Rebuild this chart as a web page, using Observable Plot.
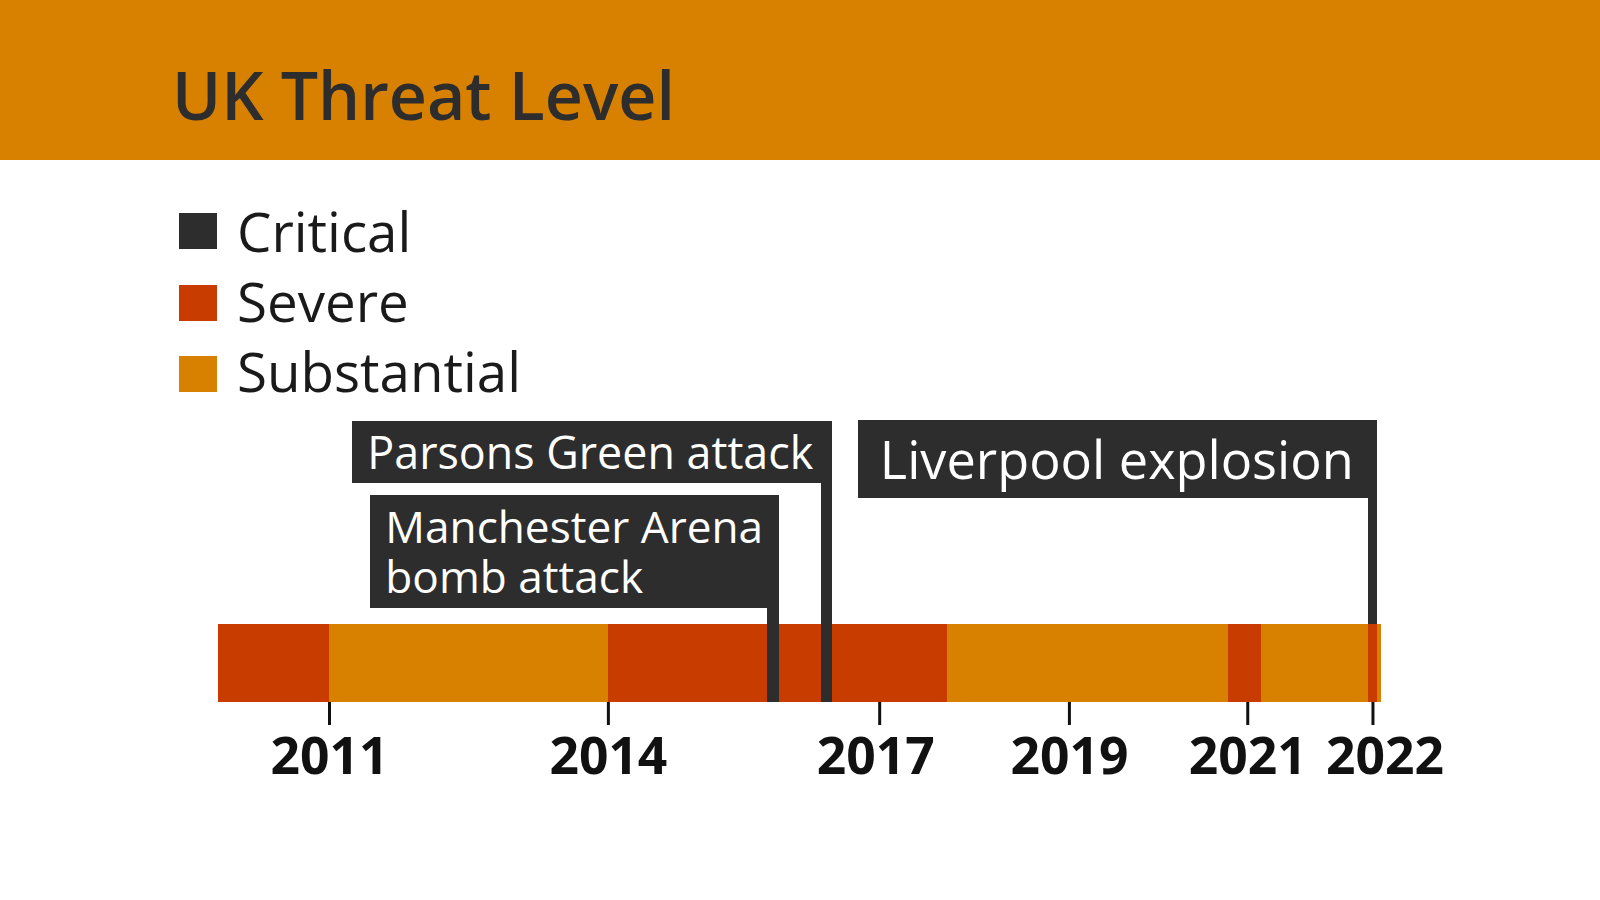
<!DOCTYPE html>
<html>
<head>
<meta charset="utf-8">
<script src="https://cdn.jsdelivr.net/npm/d3@7"></script>
<script src="https://cdn.jsdelivr.net/npm/@observablehq/plot@0.6"></script>
<style>
  html, body { margin: 0; padding: 0; background: #fff; }
  body { width: 1600px; height: 900px; position: relative; overflow: hidden; font-family: "Open Sans", sans-serif; }
  #header { position: absolute; left: 0; top: 0; width: 1600px; height: 160px; background: #d88000; }
  #title { position: absolute; left: 172px; margin: 0; color: #2d2d2d; font-weight: 600; line-height: 1; white-space: nowrap; }
  .leg-sq { position: absolute; left: 179px; width: 38px; height: 36px; }
  .leg-tx { position: absolute; left: 237px; color: #1a1a1a; font-weight: 400; line-height: 1; white-space: nowrap; }
  #chart { position: absolute; left: 0; top: 400px; }
</style>
</head>
<body>
<div id="header"><h1 id="title">UK Threat Level</h1></div>
<div id="legend"></div>
<div id="chart"></div>
<script>
// ---------------- data (timeline units ≈ years) ----------------
const levels = ["Critical", "Severe", "Substantial"];
const levelColors = ["#2d2d2d", "#c93c00", "#d88000"];

const segStart = [2009.83, 2011.00, 2013.94, 2017.52, 2020.48, 2020.83, 2021.95, 2022.05];
const segEnd   = [2011.00, 2013.94, 2017.52, 2020.48, 2020.83, 2021.95, 2022.05, 2022.09];
const segLevel = ["Severe", "Substantial", "Severe", "Substantial", "Severe", "Substantial", "Severe", "Substantial"];

const criticalStart = [2015.62, 2016.19];
const criticalEnd   = [2015.74, 2016.30];

const eventLabels = [["Manchester Arena", "bomb attack"], ["Parsons Green attack"], ["Liverpool explosion"]];
const eventStart  = [2015.62, 2016.19, 2021.95];
const eventEnd    = [2015.74, 2016.30, 2022.05];

const tickValues = [2011.00, 2013.94, 2016.80, 2018.80, 2020.68, 2022.00];
const tickLabels = ["2011", "2014", "2017", "2019", "2021", "2022"];

// ---------------- layout / style ----------------
const FONT = "Open Sans";
const ctx = document.createElement("canvas").getContext("2d");
function fitSize(text, weight, target) {
  ctx.font = `${weight} 100px "${FONT}"`;
  return 100 * target / ctx.measureText(text).width;
}
function textWidth(text, weight, size) {
  ctx.font = `${weight} ${size}px "${FONT}"`;
  return ctx.measureText(text).width;
}
const BASE = 0.888; // baseline offset (em) for line-height 1 in Open Sans

// title
const titleEl = document.getElementById("title");
const titleSize = fitSize("UK Threat Level", 600, 503);
titleEl.style.fontSize = titleSize + "px";
titleEl.style.top = (120 - BASE * titleSize) + "px";

// legend
const legendEl = document.getElementById("legend");
const legSize = fitSize("Substantial", 400, 284);
const legSqTop = [213, 285, 356];
const legBaseline = [253, 323, 393];
levels.forEach((lv, i) => {
  const sq = document.createElement("div");
  sq.className = "leg-sq";
  sq.style.top = legSqTop[i] + "px";
  sq.style.background = levelColors[i];
  legendEl.appendChild(sq);
  const tx = document.createElement("div");
  tx.className = "leg-tx";
  tx.textContent = lv;
  tx.style.fontSize = legSize + "px";
  tx.style.top = (legBaseline[i] - BASE * legSize) + "px";
  legendEl.appendChild(tx);
});

// chart geometry (svg coordinates; svg top is page y = 400)
const BAR_TOP = 224, BAR_BOTTOM = 302;
const TICK_BOTTOM = 325, TICK_LABEL_BASE = 373;
const labelNudge = {"2017": -4, "2022": 12};
const xDomain = [segStart[0], segEnd[segEnd.length - 1]];
const xRange = [218, 1381];
const xs = Plot.scale({x: {domain: xDomain, range: xRange}});

// per-event box layout
const eventBox = [
  {top: 95, bottom: 208, baseline: 192, lineGap: 50, padL: 15, padR: 16, target: 378},
  {top: 21, bottom: 83,  baseline: 68,  lineGap: 0,  padL: 15, padR: 19, target: 446},
  {top: 20, bottom: 98,  baseline: 78,  lineGap: 0,  padL: 21, padR: 24, target: 474}
];

const segments = segStart.map((s, i) => ({start: s, end: segEnd[i], level: segLevel[i]}));
const criticals = criticalStart.map((s, i) => ({start: s, end: criticalEnd[i], level: "Critical"}));
const events = eventLabels.map((lines, i) => {
  const b = eventBox[i];
  const size = fitSize(lines[0], 400, b.target);
  const w = Math.max(...lines.map(l => textWidth(l, 400, size)));
  const rightPx = xs.apply(eventEnd[i]);
  const leftPx = rightPx - b.padR - w - b.padL;
  return {
    lines, size, start: eventStart[i], end: eventEnd[i],
    boxLeft: xs.invert(leftPx), textX: xs.invert(leftPx + b.padL),
    top: b.top, bottom: b.bottom, baseline: b.baseline, lineGap: b.lineGap
  };
});

const textMarks = events.map(e => Plot.text([e], {
  x: "textX",
  y: d => d.baseline,
  text: d => d.lines.join("\n"),
  textAnchor: "start",
  lineAnchor: "bottom",
  lineHeight: e.lineGap ? e.lineGap / e.size : 1,
  fontSize: e.size,
  fontFamily: FONT,
  fill: "#ffffff"
}));

const tickSize = fitSize("2014", 700, 118);

const chart = Plot.plot({
  width: 1600,
  height: 400,
  marginLeft: xRange[0],
  marginRight: 1600 - xRange[1],
  marginTop: 0,
  marginBottom: 0,
  x: {domain: xDomain, axis: null},
  y: {type: "identity", axis: null},
  color: {domain: levels, range: levelColors},
  style: {fontFamily: FONT, background: "transparent", overflow: "visible"},
  marks: [
    // threat level timeline
    Plot.rect(segments, {x1: "start", x2: "end", y1: () => BAR_TOP, y2: () => BAR_BOTTOM, fill: "level", shapeRendering: "crispEdges"}),
    Plot.rect(criticals, {x1: "start", x2: "end", y1: () => BAR_TOP, y2: () => BAR_BOTTOM, fill: "level", shapeRendering: "crispEdges"}),
    // callout leaders
    Plot.rect(events, {x1: "start", x2: "end", y1: d => d.bottom - 1, y2: () => BAR_TOP, fill: "#2d2d2d", shapeRendering: "crispEdges"}),
    // callout boxes
    Plot.rect(events, {x1: "boxLeft", x2: "end", y1: d => d.top, y2: d => d.bottom, fill: "#2d2d2d", shapeRendering: "crispEdges"}),
    ...textMarks,
    // ticks
    Plot.ruleX(tickValues, {x: d => d, y1: () => BAR_BOTTOM, y2: () => TICK_BOTTOM, stroke: "#111111", strokeWidth: 3}),
    ...tickValues.map((v, i) => Plot.text([v], {
      x: d => d, y: () => TICK_LABEL_BASE,
      text: () => tickLabels[i],
      dx: labelNudge[tickLabels[i]] || 0,
      lineAnchor: "bottom", textAnchor: "middle",
      fontSize: tickSize, fontWeight: 700, fontFamily: FONT, fill: "#111111"
    }))
  ]
});
document.getElementById("chart").appendChild(chart);
</script>
</body>
</html>
